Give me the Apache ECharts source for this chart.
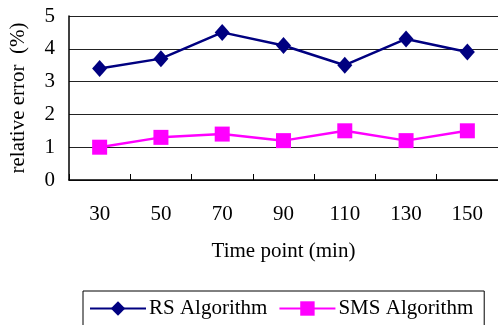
<!DOCTYPE html>
<html>
<head>
<meta charset="utf-8">
<script src="https://cdn.jsdelivr.net/npm/echarts@6/dist/echarts.min.js"></script>
<style>
  html, body { margin: 0; padding: 0; background: #fff; }
  #chart { width: 498px; height: 325px; }
</style>
</head>
<body>
<div id="chart"></div>
<script>
// Time points (minutes) along the horizontal axis
const timePoints = ['30', '50', '70', '90', '110', '130', '150'];
// Relative error (%) for each algorithm
const rsValues = [3.4, 3.7, 4.5, 4.1, 3.5, 4.3, 3.9];
const smsValues = [1.0, 1.3, 1.4, 1.2, 1.5, 1.2, 1.5];

const serif = '"Liberation Serif", "DejaVu Serif", serif';
const fs = 21;

const chart = echarts.init(document.getElementById('chart'), null, { renderer: 'canvas' });
chart.setOption({
  animation: false,
  backgroundColor: '#ffffff',
  textStyle: { fontFamily: serif },
  grid: { left: 68, top: 16, width: 435, height: 164, containLabel: false },
  legend: {
    left: 83,
    top: 291,
    padding: [7, 11, 20, 6],
    borderColor: '#000',
    borderWidth: 1,
    itemGap: 11,
    itemWidth: 56,
    itemHeight: 18,
    textStyle: { fontFamily: serif, fontSize: fs, color: '#000', padding: [0, 0, 0, -2] },
    data: ['RS Algorithm', 'SMS Algorithm']
  },
  xAxis: {
    type: 'category',
    data: timePoints,
    boundaryGap: true,
    name: 'Time point (min)',
    nameLocation: 'middle',
    nameGap: 61,
    nameTextStyle: { fontFamily: serif, fontSize: fs, color: '#000' },
    axisLine: { lineStyle: { color: '#000', width: 1.5 } },
    axisTick: { show: true, inside: true, length: 6, lineStyle: { color: '#000' } },
    axisLabel: { fontFamily: serif, fontSize: fs, color: '#000', margin: 24 },
    splitLine: { show: false }
  },
  yAxis: {
    type: 'value',
    min: 0,
    max: 5,
    interval: 1,
    name: 'relative error  (%)',
    nameLocation: 'middle',
    nameGap: 40,
    nameTextStyle: { fontFamily: serif, fontSize: fs, color: '#000' },
    axisLine: { show: true, lineStyle: { color: '#000', width: 1.5 } },
    axisTick: { show: false },
    axisLabel: { fontFamily: serif, fontSize: fs, color: '#000', margin: 14 },
    splitLine: { show: true, lineStyle: { color: '#222', width: 1 } }
  },
  series: [
    {
      name: 'RS Algorithm',
      type: 'line',
      data: rsValues,
      color: '#000080',
      symbol: 'diamond',
      symbolSize: [15, 17],
      lineStyle: { color: '#000080', width: 2.5 },
      itemStyle: { color: '#000080' }
    },
    {
      name: 'SMS Algorithm',
      type: 'line',
      data: smsValues,
      color: '#ff00ff',
      symbol: 'rect',
      symbolSize: 15,
      lineStyle: { color: '#ff00ff', width: 2.5 },
      itemStyle: { color: '#ff00ff' }
    }
  ]
});
</script>
</body>
</html>
